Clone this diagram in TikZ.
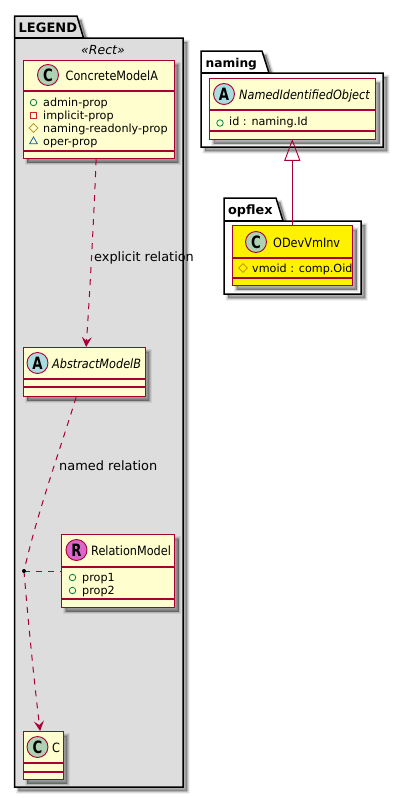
\documentclass[tikz,border=0pt]{standalone}
\usepackage{fontspec}
\setmainfont{DejaVu Sans}
\newfontfamily\cnfont[FakeStretch=.88]{DejaVu Sans}
\newfontfamily\cifont[FakeStretch=.88]{DejaVu Sans Oblique}
\newfontfamily\letfont[FakeStretch=.78]{DejaVu Sans Bold}
\usetikzlibrary{shapes.geometric,arrows.meta}
\definecolor{plborder}{HTML}{A80036}
\definecolor{plfill}{HTML}{FEFECE}
\definecolor{plC}{HTML}{ADD1B2}
\definecolor{plA}{HTML}{A9DCDF}
\definecolor{plR}{HTML}{DD66CC}
\definecolor{mpub}{HTML}{038048}
\definecolor{mpriv}{HTML}{C82930}
\definecolor{mprot}{HTML}{B38D22}
\definecolor{mpack}{HTML}{1963A0}
\tikzset{
 softshadow/.style={
  preaction={draw=black,line width=5pt,draw opacity=.07,fill=black,fill opacity=.07,transform canvas={shift={(4pt,-4pt)}}},
  preaction={draw=black,line width=3pt,draw opacity=.12,fill=black,fill opacity=.12,transform canvas={shift={(4pt,-4pt)}}},
  preaction={draw=black,line width=1pt,draw opacity=.15,fill=black,fill opacity=.15,transform canvas={shift={(4pt,-4pt)}}}},
 pkgline/.style={draw=black,line width=1.5pt,line join=miter},
 cls/.style={rectangle,draw=plborder,line width=1.25pt,fill=plfill,inner sep=0pt,anchor=north west,softshadow},
 sepl/.style={draw=plborder,line width=1.1pt},
 spot/.style={circle,draw=plborder,line width=.9pt,minimum size=21pt,inner sep=0pt,font=\letfont\fontsize{17}{17}\selectfont},
 cname/.style={anchor=base west,inner sep=0pt,font=\cnfont\fontsize{12.8}{13}\selectfont},
 iname/.style={anchor=base west,inner sep=0pt,font=\cifont\fontsize{12.8}{13}\selectfont},
 memb/.style={anchor=base west,inner sep=0pt,font=\fontsize{11.2}{12}\selectfont},
 elabel/.style={anchor=base west,inner sep=0pt,font=\fontsize{12.9}{14}\selectfont,text=black},
 pkglabel/.style={anchor=base west,inner sep=0pt,font=\bfseries},
 mk/.style={inner sep=0pt,line width=.8pt},
 mpubl/.style={mk,circle,draw=mpub,minimum size=6.5pt},
 mprivl/.style={mk,rectangle,draw=mpriv,minimum size=6pt},
 mprotl/.style={mk,diamond,draw=mprot,minimum size=9pt},
 mpackl/.style={mk,regular polygon,regular polygon sides=3,draw=mpack,minimum size=9pt},
 rel/.style={draw=plborder,line width=1pt,dash pattern=on 6pt off 6pt},
 tip/.style={-{Stealth[length=10pt,width=10pt,inset=4pt,fill=plborder]}},
}
\newcommand{\seprow}[2]{\draw[sepl] ([yshift=-#2pt]#1.north west) -- ([yshift=-#2pt]#1.north east);}
\begin{document}
\begin{tikzpicture}[x=1pt,y=-1pt]
\useasboundingbox (0,0) rectangle (404,798);
% packages
\path[softshadow,pkgline,fill=black!13.5] (14.5,38) -- (14.5,16) -- (77,16) -- (83.5,38) -- (183,38) -- (183,787) -- (14.5,787) -- cycle;
\draw[pkgline] (14.5,38) -- (83.5,38);
\node[pkglabel,font=\bfseries\fontsize{13}{14}\selectfont] (lgd) at (18.5,32) {LEGEND};
\node[anchor=base,inner sep=0pt,font=\itshape\fontsize{12.5}{13}\selectfont] (stereo) at (103,54) {«Rect»};
\path[softshadow,pkgline,fill=white] (201,73) -- (201,51) -- (262,51) -- (269,73) -- (383,73) -- (383,147) -- (201,147) -- cycle;
\draw[pkgline] (201,73) -- (269,73);
\node[pkglabel,font=\bfseries\fontsize{12.2}{14}\selectfont] (pnaming) at (205.5,67) {naming};
\path[softshadow,pkgline,fill=white] (224,221) -- (224,198) -- (276,198) -- (283,221) -- (361,221) -- (361,294) -- (224,294) -- cycle;
\draw[pkgline] (224,221) -- (283,221);
\node[pkglabel,font=\bfseries\fontsize{12.8}{14}\selectfont] (popflex) at (228,214) {opflex};
% ConcreteModelA
\node[cls,minimum width=151pt,minimum height=98pt] (a) at (22.5,60) {};
\seprow{a}{31}\seprow{a}{91}
\node[spot,fill=plC] (sa) at (48,75) {C};
\node[cname] (na) at (65.5,80.5) {ConcreteModelA};
\node[mpubl] (m1) at (33.5,102.5) {};
\node[memb] (t1) at (43,106.5) {admin-prop};
\node[mprivl] (m2) at (33.5,115.5) {};
\node[memb] (t2) at (43,119.5) {implicit-prop};
\node[mprotl] (m3) at (33.5,128) {};
\node[memb] (t3) at (43,132.5) {naming-readonly-prop};
\node[mpackl] (m4) at (33.5,141.5) {};
\node[memb] (t4) at (43,145.5) {oper-prop};
% AbstractModelB
\node[cls,minimum width=122pt,minimum height=49pt] (b) at (22.5,347) {};
\seprow{b}{32}\seprow{b}{40}
\node[spot,fill=plA] (sb) at (37.5,363) {A};
\node[iname] (nb) at (52,368.5) {AbstractModelB};
% RelationModel
\node[cls,minimum width=113pt,minimum height=73pt] (r) at (61,534) {};
\seprow{r}{33}\seprow{r}{65}
\node[spot,fill=plR] (sr) at (76.5,550) {R};
\node[cname] (nr) at (91,555.5) {RelationModel};
\node[mpubl] (m5) at (72.5,577.5) {};
\node[memb] (t5) at (82,581.5) {prop1};
\node[mpubl] (m6) at (72.5,590.5) {};
\node[memb] (t6) at (82,594.5) {prop2};
% C
\node[cls,minimum width=40pt,minimum height=48pt] (c) at (22.5,731) {};
\seprow{c}{32}\seprow{c}{41}
\node[spot,fill=plC] (sc) at (37.5,747) {C};
\node[cname] (nc) at (52,752.5) {C};
% NamedIdentifiedObject
\node[cls,minimum width=166pt,minimum height=61pt] (n) at (209,78) {};
\seprow{n}{32}\seprow{n}{53}
\node[spot,fill=plA] (sn) at (224,94) {A};
\node[iname] (nn) at (239,99.5) {NamedIdentifiedObject};
\node[mpubl] (m7) at (220,123) {};
\node[memb] (t7) at (229,125.5) {id : naming.Id};
% ODevVmInv
\node[cls,fill=yellow,minimum width=120pt,minimum height=60pt] (o) at (232,225) {};
\seprow{o}{33}\seprow{o}{53}
\node[spot,fill=plC] (so) at (256,242) {C};
\node[cname] (no) at (273,247.5) {ODevVmInv};
\node[mprotl] (m8) at (243,268) {};
\node[memb] (t8) at (252,272.5) {vmoid : comp.Oid};
% relations
\draw[rel,tip] ([xshift=-2.5pt]a.south) .. controls (94,215) and (90,290) .. ([xshift=2pt]b.north);
\node[elabel] (l1) at (94,261.5) {explicit relation};
\coordinate (dotc) at (24,571);
\draw[rel] ([xshift=-8pt]b.south) .. controls (60,450) and (38,510) .. (dotc);
\draw[rel,tip] (dotc) .. controls (28,620) and (34,680) .. ([xshift=-3pt]c.north);
\draw[rel] (dotc) -- (dotc -| r.west);
\fill[black] (dotc) circle[radius=2pt];
\node[elabel] (l2) at (59,470.5) {named relation};
% inheritance
\node[isosceles triangle,isosceles triangle apex angle=41,shape border rotate=90,draw=plborder,fill=none,line width=.9pt,inner sep=0pt,minimum height=20pt,minimum width=15pt,anchor=apex] (tri) at (292.3,139) {};
\draw[draw=plborder,line width=.9pt] (tri.south) -- (tri.south |- o.north);
\end{tikzpicture}
\end{document}
